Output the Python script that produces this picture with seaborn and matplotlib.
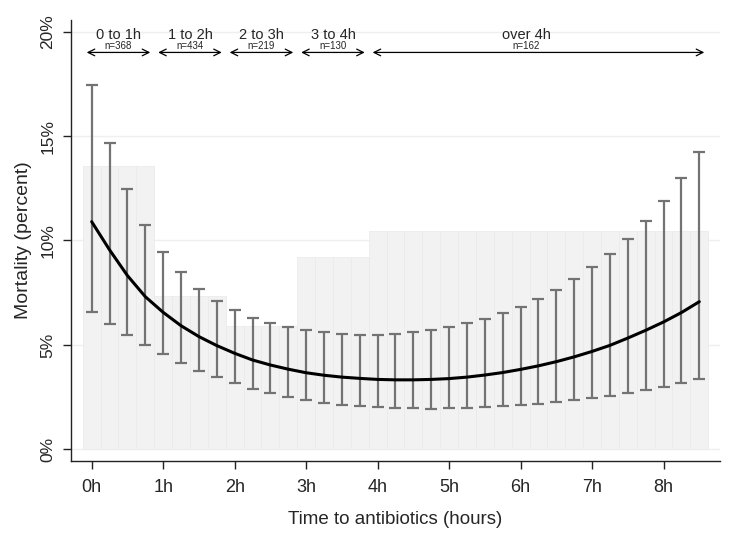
import numpy as np
import matplotlib
matplotlib.use("Agg")
import matplotlib.pyplot as plt
import seaborn as sns

# Posiciones (horas) de cada estimacion
hours = [0, 0.25, 0.5, 0.75, 1, 1.25, 1.5, 1.75, 2, 2.25, 2.5, 2.75,
         3, 3.25, 3.5, 3.75, 4, 4.25, 4.5, 4.75, 5, 5.25, 5.5, 5.75,
         6, 6.25, 6.5, 6.75, 7, 7.25, 7.5, 7.75, 8, 8.25, 8.5]

# Curva ajustada de mortalidad (%)
fit = [10.9, 9.55, 8.32, 7.31, 6.56, 5.92, 5.40, 4.97, 4.60, 4.28, 4.04, 3.84,
       3.67, 3.55, 3.46, 3.40, 3.35, 3.33, 3.33, 3.35, 3.39, 3.46, 3.56, 3.68,
       3.83, 4.00, 4.20, 4.43, 4.69, 4.98, 5.33, 5.70, 6.10, 6.55, 7.07]

# Intervalos de confianza
upper = [17.44, 14.65, 12.46, 10.76, 9.47, 8.48, 7.70, 7.12, 6.67, 6.31, 6.04, 5.85,
         5.70, 5.61, 5.53, 5.49, 5.49, 5.54, 5.62, 5.72, 5.86, 6.05, 6.26, 6.53,
         6.83, 7.22, 7.63, 8.14, 8.72, 9.35, 10.09, 10.95, 11.90, 13.00, 14.23]
lower = [6.59, 6.00, 5.48, 5.00, 4.55, 4.16, 3.77, 3.45, 3.17, 2.90, 2.69, 2.53,
         2.37, 2.24, 2.14, 2.08, 2.03, 1.99, 1.97, 1.95, 1.97, 2.00, 2.03, 2.07,
         2.11, 2.18, 2.27, 2.35, 2.46, 2.57, 2.70, 2.85, 3.00, 3.18, 3.39]

# Mortalidad observada por grupo
groups = ['0 to 1h', '1 to 2h', '2 to 3h', '3 to 4h', 'over 4h']
group_n = ['n=368', 'n=434', 'n=219', 'n=130', 'n=162']
group_start = [0, 1, 2, 3, 4]
group_end = [0.75, 1.75, 2.75, 3.75, 8.5]
group_mort = [13.56, 7.36, 5.92, 9.22, 10.47]

xticks = [0, 1, 2, 3, 4, 5, 6, 7, 8]
xticklabels = ['0h', '1h', '2h', '3h', '4h', '5h', '6h', '7h', '8h']
yticks = [0, 5, 10, 15, 20]
yticklabels = ['0%', '5%', '10%', '15%', '20%']

sns.set_style("white")
plt.rcParams['font.family'] = ['Liberation Sans', 'DejaVu Sans']

fig = plt.figure(figsize=(7.4, 5.42), dpi=100)
ax = fig.add_axes([0.0955, 0.15, 0.8775, 0.813])

# Barras de fondo (una por cada posicion, altura del grupo)
bar_h = []
for h in hours:
    for s, e, m in zip(group_start, group_end, group_mort):
        if s <= h <= e:
            bar_h.append(m)
ax.bar(hours, bar_h, width=0.25, color='#f2f2f2', edgecolor='#ebebeb',
       linewidth=0.6, zorder=1)

# Lineas de referencia
for yt in yticks:
    ax.axhline(yt, color='#efefef', lw=1.0, zorder=0)

# Intervalos de confianza
f_arr = np.array(fit)
ax.errorbar(hours, fit, yerr=[f_arr - np.array(lower), np.array(upper) - f_arr],
            fmt='none', ecolor='#737373', elinewidth=1.6, capsize=4.5,
            capthick=1.6, zorder=2)

# Curva ajustada
sns.lineplot(x=hours, y=fit, color='black', linewidth=2.2, ax=ax, zorder=3)

# Flechas y etiquetas de grupos
for g, n, s, e in zip(groups, group_n, group_start, group_end):
    ax.annotate('', xy=(e + 0.07, 19.0), xytext=(s - 0.07, 19.0),
                arrowprops=dict(arrowstyle='<->', color='black', lw=0.9,
                                mutation_scale=12, shrinkA=0, shrinkB=0))
    mid = (s + e) / 2 if e - s < 1 else 6.08
    ax.text(mid, 19.85, g, ha='center', va='center', fontsize=10.5)
    ax.text(mid, 19.3, n, ha='center', va='center', fontsize=7)

ax.set_xlim(-0.294, 8.79)
ax.set_ylim(-0.54, 20.55)
ax.set_xticks(xticks)
ax.set_xticklabels(xticklabels, fontsize=13)
ax.set_yticks(yticks)
ax.set_yticklabels(yticklabels, fontsize=12.5, rotation=90, va='center')
ax.tick_params(axis='both', direction='out', length=6, width=1, color='#222222',
               bottom=True, left=True)
ax.tick_params(axis='x', pad=7)
ax.tick_params(axis='y', pad=5)
ax.set_xlabel('Time to antibiotics (hours)', fontsize=13.5, labelpad=11)
ax.set_ylabel('Mortality (percent)', fontsize=14, labelpad=6)

for side in ['top', 'right']:
    ax.spines[side].set_visible(False)
for side in ['left', 'bottom']:
    ax.spines[side].set_color('#222222')
    ax.spines[side].set_linewidth(1.0)

fig.savefig('out.png', dpi=100)
